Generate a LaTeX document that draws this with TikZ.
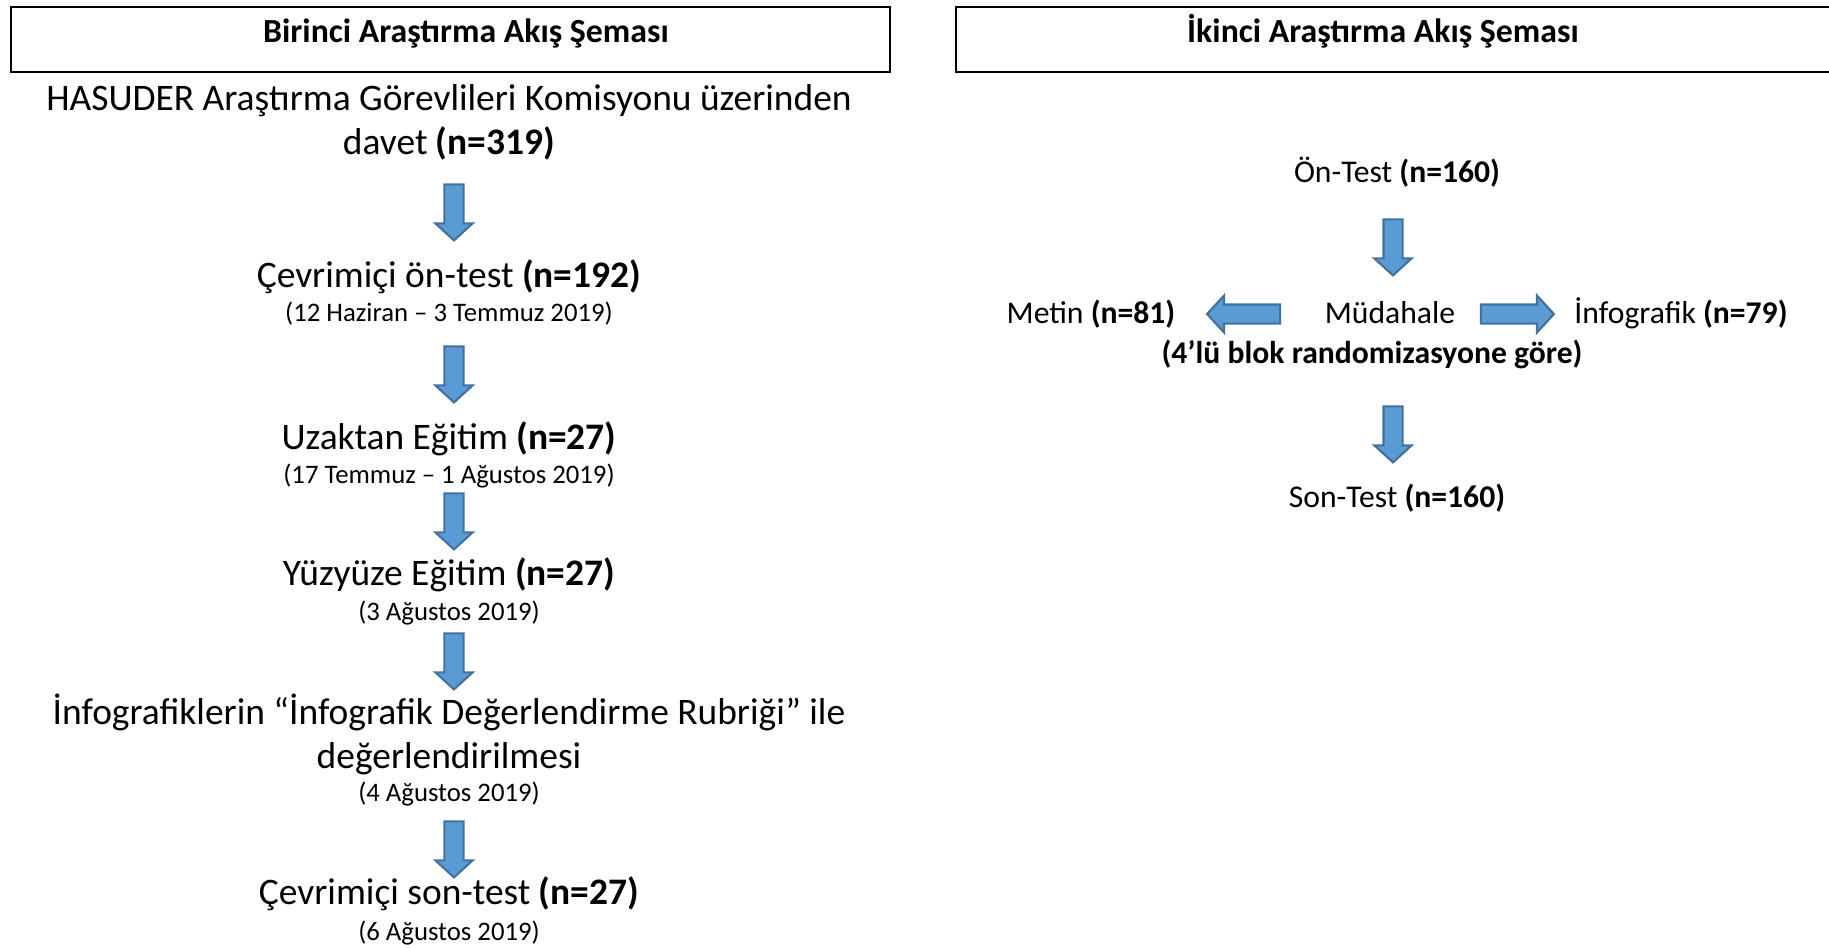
\documentclass[tikz,border=0pt]{standalone}
\usepackage{fontspec}
\setmainfont{Carlito}
\usetikzlibrary{shapes.arrows}

\definecolor{okmavi}{HTML}{5B9BD5}
\definecolor{okkenar}{HTML}{41719C}

\begin{document}
\begin{tikzpicture}[x=0.01cm,y=-0.01cm]

        % Stiller
        \tikzset{
            every node/.style={inner sep=0pt, anchor=base},
            buyuk/.style={font=\fontsize{10.65}{12.5}\selectfont, align=center},
            kucuk/.style={font=\fontsize{7.6}{9}\selectfont},
            orta/.style={font=\fontsize{9}{11}\selectfont},
            baslik/.style={font=\fontsize{9.6}{11}\selectfont\bfseries},
            blok/.style={single arrow, draw=okkenar, fill=okmavi, line width=0.6pt,
                anchor=center, inner sep=0.085cm, minimum width=0.35cm,
                single arrow head extend=0.09cm, single arrow head indent=0pt,
                single arrow tip angle=95},
            asagi/.style={blok, shape border rotate=270, minimum height=0.56cm},
            yatay/.style={blok, minimum height=0.73cm}
        }

        % Resmin sinirlari
        \useasboundingbox (0,0) rectangle (1829,947);

        % Baslik kutulari
        \draw[line width=0.7pt] (11,7) rectangle (890,72);
        \draw[line width=0.7pt] (956,7) rectangle (1835,72);
        \node[baslik] (baslik1) at (466,42) {Birinci Araştırma Akış Şeması};
        \node[baslik] (baslik2) at (1383,42) {İkinci Araştırma Akış Şeması};

        % Birinci arastirma (sol sutun)
        \node[buyuk] (davet) at (449,154) {HASUDER Araştırma Görevlileri Komisyonu üzerinden\\davet \textbf{(n=319)}};
        \node[blok, asagi] (ok1) at (454,208) {};
        \node[buyuk] (ontest) at (449,287) {Çevrimiçi ön-test \textbf{(n=192)}};
        \node[kucuk] (ontesttarih) at (449,321) {(12 Haziran – 3 Temmuz 2019)};
        \node[blok, asagi] (ok2) at (454,370) {};
        \node[buyuk] (uzaktan) at (449,449) {Uzaktan Eğitim \textbf{(n=27)}};
        \node[kucuk] (uzaktantarih) at (449,483) {(17 Temmuz – 1 Ağustos 2019)};
        \node[blok, asagi] (ok3) at (454,517) {};
        \node[buyuk] (yuzyuze) at (449,585) {Yüzyüze Eğitim \textbf{(n=27)}};
        \node[kucuk] (yuzyuzetarih) at (449,620) {(3 Ağustos 2019)};
        \node[blok, asagi] (ok4) at (454,657) {};
        \node[buyuk] (degerlendirme) at (449,768) {İnfografiklerin “İnfografik Değerlendirme Rubriği” ile\\değerlendirilmesi};
        \node[kucuk] (degerlendirmetarih) at (449,801) {(4 Ağustos 2019)};
        \node[blok, asagi] (ok5) at (454,845) {};
        \node[buyuk] (sontest) at (449,904) {Çevrimiçi son-test \textbf{(n=27)}};
        \node[kucuk] (sontesttarih) at (449,940) {(6 Ağustos 2019)};

        % Ikinci arastirma (sag sutun)
        \node[orta] (ontest2) at (1397,182) {Ön-Test \textbf{(n=160)}};
        \node[blok, asagi] (ok6) at (1393,243) {};
        \node[orta] (metin) at (1091,323) {Metin \textbf{(n=81)}};
        \node[blok, yatay, shape border rotate=180] (ok7) at (1248,314) {};
        \node[orta] (mudahale) at (1390,323) {Müdahale};
        \node[blok, yatay] (ok8) at (1513,314) {};
        \node[orta] (infografik) at (1681,323) {İnfografik \textbf{(n=79)}};
        \node[orta] (blokrand) at (1372,363) {\textbf{(4’lü blok randomizasyone göre)}};
        \node[blok, asagi] (ok9) at (1393,430) {};
        \node[orta] (sontest2) at (1397,507) {Son-Test \textbf{(n=160)}};

\end{tikzpicture}
\end{document}
